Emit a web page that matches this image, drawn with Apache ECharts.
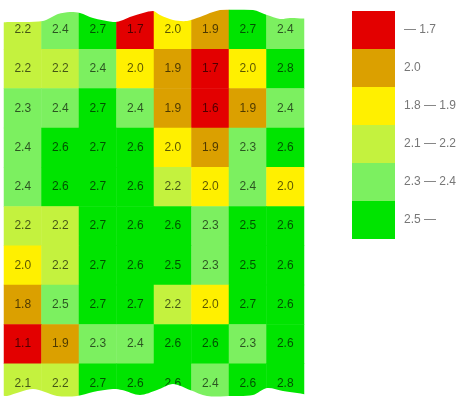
<!DOCTYPE html>
<html>
<head>
<meta charset="utf-8">
<script src="https://cdn.jsdelivr.net/npm/echarts@6/dist/echarts.min.js"></script>
<style>
html,body{margin:0;padding:0;background:#fff;}
#chart{width:461px;height:403px;}
</style>
</head>
<body>
<div id="chart"></div>
<script>
// Data: rows top to bottom, 8 columns each
const columns = ['C1','C2','C3','C4','C5','C6','C7','C8'];
const rows = ['R1','R2','R3','R4','R5','R6','R7','R8','R9','R10'];
const row1  = [2.2, 2.4, 2.7, 1.7, 2.0, 1.9, 2.7, 2.4];
const row2  = [2.2, 2.2, 2.4, 2.0, 1.9, 1.7, 2.0, 2.8];
const row3  = [2.3, 2.4, 2.7, 2.4, 1.9, 1.6, 1.9, 2.4];
const row4  = [2.4, 2.6, 2.7, 2.6, 2.0, 1.9, 2.3, 2.6];
const row5  = [2.4, 2.6, 2.7, 2.6, 2.2, 2.0, 2.4, 2.0];
const row6  = [2.2, 2.2, 2.7, 2.6, 2.6, 2.3, 2.5, 2.6];
const row7  = [2.0, 2.2, 2.7, 2.6, 2.5, 2.3, 2.5, 2.6];
const row8  = [1.8, 2.46, 2.7, 2.7, 2.2, 2.0, 2.7, 2.6];
const row9  = [1.1, 1.9, 2.3, 2.4, 2.6, 2.6, 2.3, 2.6];
const row10 = [2.1, 2.2, 2.7, 2.6, 2.6, 2.4, 2.6, 2.8];
const rowValues = [row1,row2,row3,row4,row5,row6,row7,row8,row9,row10];

// Legend labels (top to bottom) as printed
const legendLabels = ['\u2014 1.7', '2.0', '1.8 \u2014 1.9', '2.1 \u2014 2.2', '2.3 \u2014 2.4', '2.5 \u2014'];

const heatData = [];
rowValues.forEach((r, yi) => r.forEach((v, xi) => heatData.push([xi, yi, v])));

const chart = echarts.init(document.getElementById('chart'), null, {renderer: 'canvas'});

const topWave = [[0,0],[0,22],[7,22],[43,21],[58,14],[70,12],[80,13],[93,18],[113,22],[120,21],[133,16],[153,11],[160,15],[173,20],[187,21],[200,17],[213,12],[227,9],[253,10],[267,15],[280,19],[290,18],[310,17],[310,0]];
const bottomWave = [[0,403],[0,396],[7,396],[20,392],[33,389],[45,392],[57,396],[77,396],[93,392],[113,389],[122,390],[140,395],[157,390],[173,384],[190,390],[207,396],[233,396],[253,395],[267,388],[283,391],[310,396],[310,403]];

chart.setOption({
  animation: false,
  backgroundColor: '#ffffff',
  grid: {left: 4, top: 10, width: 300, height: 397, containLabel: false},
  xAxis: {type: 'category', data: columns, show: false},
  yAxis: {type: 'category', data: rows, inverse: true, show: false},
  visualMap: {
    type: 'piecewise',
    orient: 'vertical',
    align: 'left',
    inverse: true,
    padding: 0,
    left: 352,
    top: 11,
    itemWidth: 43,
    itemHeight: 38,
    itemGap: 0,
    itemSymbol: 'rect',
    textGap: 9,
    hoverLink: false,
    selectedMode: false,
    textStyle: {color: '#777', fontSize: 12, fontFamily: 'Liberation Sans, Arial, sans-serif'},
    pieces: [
      {lt: 1.75, color: '#E30000', label: legendLabels[0]},
      {gte: 1.75, lt: 1.95, color: '#DBA000', label: legendLabels[1]},
      {gte: 1.95, lt: 2.05, color: '#FFF000', label: legendLabels[2]},
      {gte: 2.05, lt: 2.25, color: '#C4F23E', label: legendLabels[3]},
      {gte: 2.25, lt: 2.5, color: '#7CF060', label: legendLabels[4]},
      {gte: 2.5, color: '#00E400', label: legendLabels[5]}
    ]
  },
  series: [{
    type: 'heatmap',
    data: heatData,
    label: {
      show: true,
      formatter: p => p.value[2].toFixed(1),
      color: 'rgba(0,0,0,0.65)',
      fontSize: 12,
      fontFamily: 'Liberation Sans, Arial, sans-serif'
    },
    emphasis: {disabled: true}
  }],
  graphic: [
    {type: 'polygon', z: 100, shape: {points: topWave, smooth: 0.3}, style: {fill: '#ffffff'}},
    {type: 'polygon', z: 100, shape: {points: bottomWave, smooth: 0.3}, style: {fill: '#ffffff'}}
  ]
});
</script>
</body>
</html>
